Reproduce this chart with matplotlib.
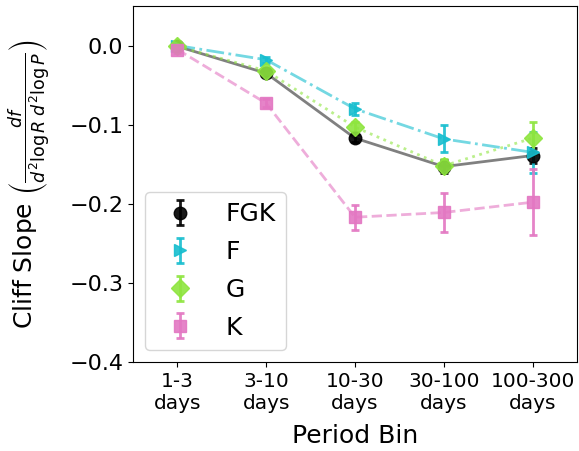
import matplotlib
matplotlib.use("Agg")
import matplotlib.pyplot as plt
import numpy as np

categories = ["1-3\ndays", "3-10\ndays", "10-30\ndays", "30-100\ndays", "100-300\ndays"]
fgk = [-0.001, -0.035, -0.117, -0.153, -0.139]
fgk_err = [0.003, 0.004, 0.005, 0.008, 0.010]
f_vals = [0.000, -0.018, -0.080, -0.118, -0.135]
f_err = [0.003, 0.004, 0.008, 0.017, 0.026]
g_vals = [-0.001, -0.032, -0.103, -0.152, -0.117]
g_err = [0.003, 0.004, 0.006, 0.008, 0.020]
k_vals = [-0.005, -0.073, -0.217, -0.211, -0.198]
k_err = [0.004, 0.005, 0.016, 0.025, 0.042]

x = np.arange(len(categories))
fig, ax = plt.subplots(figsize=(5.79, 4.51), dpi=100)
fig.subplots_adjust(left=0.2297, right=0.9965, top=0.9867, bottom=0.1973)

series = [
    ("FGK", fgk, fgk_err, "black", "o", "-", "gray"),
    ("F", f_vals, f_err, "#17becf", ">", "-.", "#17becf"),
    ("G", g_vals, g_err, "#8ee53f", "D", ":", "#8ee53f"),
    ("K", k_vals, k_err, "#e377c2", "s", "--", "#e377c2"),
]
for name, vals, err, col, mk, ls, lcol in series:
    ax.plot(x, vals, linestyle=ls, color=lcol, alpha=0.6 if name != "FGK" else 1.0, lw=2, zorder=1)
    ax.errorbar(x, vals, yerr=err, fmt=mk, color=col, ms=9, capsize=3, elinewidth=2,
                capthick=2, alpha=0.9, label=name, zorder=2)

ax.set_xlim(-0.5, 4.5)
ax.set_ylim(-0.4, 0.05)
ax.set_yticks([0.0, -0.1, -0.2, -0.3, -0.4])
ax.set_xticks(x)
ax.set_xticklabels(categories, fontsize=14.5)
ax.tick_params(axis="y", labelsize=16)
ax.set_xlabel("Period Bin", fontsize=18, labelpad=8)
ax.set_ylabel(r"Cliff Slope $\left(\frac{df}{d^2\log R\; d^2\log P}\right)$", fontsize=18, labelpad=12)
ax.legend(loc="lower left", fontsize=18, labelspacing=0.55)
fig.savefig("out.png", dpi=100)
